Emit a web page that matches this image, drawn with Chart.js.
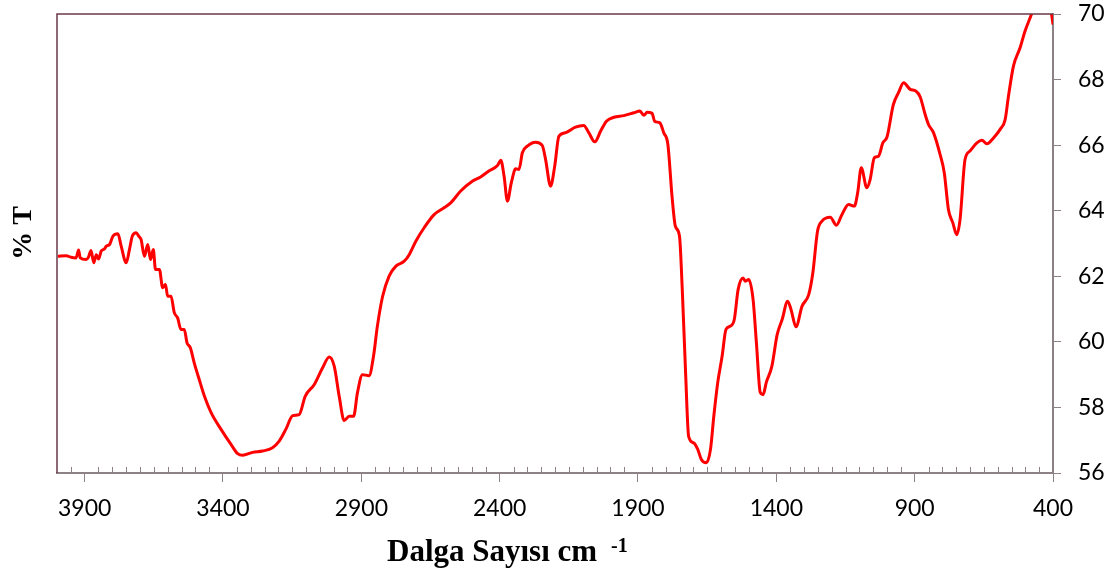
<!DOCTYPE html>
<html>
<head>
<meta charset="utf-8">
<script src="https://cdn.jsdelivr.net/npm/chart.js@4/dist/chart.umd.min.js"></script>
<style>
  body { margin: 0; background: #fff; }
</style>
</head>
<body>
<canvas id="ftir" width="1113" height="577"></canvas>
<script>
// wavenumbers (cm-1) and % transmittance
const waveNumbers = [
  3997, 3967, 3949, 3931, 3922, 3916, 3895, 3886, 3877, 3867, 3858, 3850, 3840, 3828, 3822, 3810,
  3798, 3780, 3768, 3750, 3738, 3728, 3714, 3704, 3696, 3684, 3672, 3662, 3652, 3644, 3630, 3618,
  3608, 3600, 3588, 3576, 3564, 3552, 3540, 3530, 3518, 3504, 3486, 3467, 3443, 3407, 3371, 3347,
  3329, 3293, 3257, 3221, 3197, 3173, 3148, 3125, 3103, 3070, 3040, 3016, 2998, 2980, 2962, 2944,
  2928, 2914, 2896, 2872, 2856, 2842, 2823, 2800, 2775, 2745, 2727, 2703, 2673, 2637, 2601, 2577,
  2541, 2499, 2469, 2439, 2408, 2396, 2384, 2372, 2358, 2342, 2330, 2318, 2300, 2270, 2246, 2234,
  2216, 2201, 2186, 2162, 2126, 2096, 2078, 2056, 2035, 2014, 1987, 1951, 1915, 1893, 1879, 1867,
  1849, 1840, 1821, 1807, 1792, 1777, 1765, 1750, 1740, 1728, 1717, 1699, 1684, 1671, 1653, 1638,
  1626, 1612, 1596, 1582, 1566, 1552, 1538, 1520, 1512, 1500, 1484, 1472, 1458, 1448, 1436, 1416,
  1397, 1379, 1359, 1347, 1329, 1307, 1283, 1268, 1251, 1235, 1205, 1183, 1163, 1139, 1118, 1106,
  1093, 1073, 1061, 1046, 1031, 1015, 1000, 977, 958, 940, 916, 896, 880, 862, 850, 832,
  808, 793, 778, 762, 748, 736, 718, 700, 675, 657, 639, 615, 591, 573, 561, 543,
  519, 501, 483, 471, 455, 435, 418, 405, 400
];
const transmittance = [
  62.61, 62.63, 62.58, 62.56, 62.80, 62.56, 62.51, 62.59, 62.79, 62.41, 62.66, 62.53, 62.77, 62.84, 62.92, 62.97,
  63.22, 63.30, 62.92, 62.41, 62.82, 63.22, 63.33, 63.22, 63.12, 62.61, 62.97, 62.51, 62.82, 62.21, 62.21, 61.65,
  61.75, 61.39, 61.39, 60.89, 60.73, 60.38, 60.38, 59.97, 59.82, 59.36, 58.85, 58.34, 57.84, 57.33, 56.87, 56.59,
  56.54, 56.63, 56.67, 56.77, 56.97, 57.33, 57.75, 57.78, 58.34, 58.70, 59.21, 59.54, 59.26, 58.34, 57.60, 57.73,
  57.73, 58.45, 59.00, 58.97, 59.56, 60.48, 61.39, 62.00, 62.31, 62.46, 62.66, 63.07, 63.48, 63.88, 64.09, 64.24,
  64.60, 64.90, 65.03, 65.21, 65.38, 65.54, 65.05, 64.29, 64.85, 65.28, 65.26, 65.77, 65.97, 66.09, 65.99, 65.56,
  64.75, 65.36, 66.27, 66.38, 66.55, 66.60, 66.38, 66.10, 66.43, 66.73, 66.85, 66.90, 66.99, 67.04, 66.91, 67.00,
  66.97, 66.73, 66.68, 66.38, 66.02, 64.44, 63.53, 63.22, 61.60, 59.06, 57.12, 56.92, 56.72, 56.41, 56.31, 56.72,
  57.73, 58.75, 59.56, 60.38, 60.48, 60.68, 61.60, 61.95, 61.85, 61.90, 61.29, 59.97, 58.45, 58.39, 58.77, 59.26,
  60.22, 60.68, 61.24, 60.99, 60.46, 61.09, 61.44, 62.11, 63.38, 63.68, 63.80, 63.56, 63.88, 64.19, 64.14, 64.55,
  65.31, 64.70, 64.95, 65.61, 65.66, 66.07, 66.25, 67.24, 67.61, 67.90, 67.70, 67.65, 67.47, 66.93, 66.63, 66.38,
  65.71, 65.16, 64.04, 63.63, 63.27, 63.73, 65.56, 65.82, 66.07, 66.15, 66.04, 66.22, 66.48, 66.78, 67.49, 68.41,
  68.97, 69.48, 69.88, 70.14, 70.45, 70.50, 70.30, 69.98, 69.68
];

const xTicks = [400, 900, 1400, 1900, 2400, 2900, 3400, 3900];
const xMinorTicks = [];
for (let v = 450; v < 4000; v += 50) {
  if ((v - 400) % 500 !== 0) xMinorTicks.push(v);
}
const yTicks = [56, 58, 60, 62, 64, 66, 68, 70];

const xTitle = "Dalga Sayısı cm";
const xTitleSup = "-1";
const yTitle = "% T";

const axisGray = "#8c8286";
const frameColor = "#6b3a4a";

const points = waveNumbers.map((w, i) => ({ x: w, y: transmittance[i] }));

// frame, minor ticks and axis titles
const extras = {
  id: "extras",
  afterDraw(chart) {
    const ctx = chart.ctx;
    const a = chart.chartArea;
    const xs = chart.scales.x;
    ctx.save();

    ctx.strokeStyle = axisGray;
    ctx.lineWidth = 1;
    xMinorTicks.forEach(v => {
      const px = Math.round(xs.getPixelForValue(v)) + 0.5;
      ctx.beginPath();
      ctx.moveTo(px, a.bottom);
      ctx.lineTo(px, a.bottom - 6);
      ctx.stroke();
    });

    ctx.strokeStyle = frameColor;
    ctx.lineWidth = 1.5;
    ctx.beginPath();
    ctx.moveTo(a.left, a.bottom);
    ctx.lineTo(a.left, a.top);
    ctx.lineTo(a.right, a.top);
    ctx.stroke();

    ctx.fillStyle = "#000";
    ctx.textBaseline = "alphabetic";
    ctx.textAlign = "left";
    ctx.font = "bold 31px 'Liberation Serif'";
    ctx.fillText(xTitle, 387, 561);
    const w = ctx.measureText(xTitle).width;
    ctx.font = "bold 20px 'Liberation Serif'";
    ctx.fillText(xTitleSup, 387 + w + 14, 552);

    ctx.translate(24, 233);
    ctx.rotate(-Math.PI / 2);
    ctx.textAlign = "center";
    ctx.textBaseline = "middle";
    ctx.font = "bold 28px 'Liberation Serif'";
    ctx.fillText(yTitle, 0, 0);
    ctx.restore();
  }
};

new Chart(document.getElementById("ftir").getContext("2d"), {
  type: "line",
  data: {
    datasets: [{
      data: points,
      borderColor: "#ff0000",
      borderWidth: 3,
      pointRadius: 0,
      fill: false,
      cubicInterpolationMode: "monotone"
    }]
  },
  options: {
    responsive: false,
    animation: false,
    layout: { autoPadding: false, padding: { left: 57, top: 14, right: 0, bottom: 0 } },
    plugins: { legend: { display: false }, tooltip: { enabled: false } },
    scales: {
      x: {
        type: "linear",
        reverse: true,
        min: 400,
        max: 4000,
        position: "bottom",
        afterBuildTicks: s => { s.ticks = xTicks.map(v => ({ value: v })); },
        afterFit: s => { s.height = 104; s.paddingLeft = 0; s.paddingRight = 0; },
        grid: { drawOnChartArea: false, tickLength: 9, color: axisGray, lineWidth: 1 },
        border: { color: axisGray, width: 2 },
        ticks: {
          autoSkip: false,
          maxRotation: 0,
          padding: 13,
          color: "#000",
          font: { family: "Lato", size: 23 },
          callback: v => String(v)
        }
      },
      y: {
        position: "right",
        min: 56,
        max: 70,
        afterBuildTicks: s => { s.ticks = yTicks.map(v => ({ value: v })); },
        afterFit: s => { s.width = 60; s.paddingTop = 0; s.paddingBottom = 0; },
        grid: { drawOnChartArea: false, tickLength: 8, color: axisGray, lineWidth: 1 },
        border: { color: axisGray, width: 2 },
        ticks: {
          padding: 17,
          color: "#000",
          font: { family: "Lato", size: 23 },
          callback: v => String(v)
        }
      }
    }
  },
  plugins: [extras]
});
</script>
</body>
</html>
